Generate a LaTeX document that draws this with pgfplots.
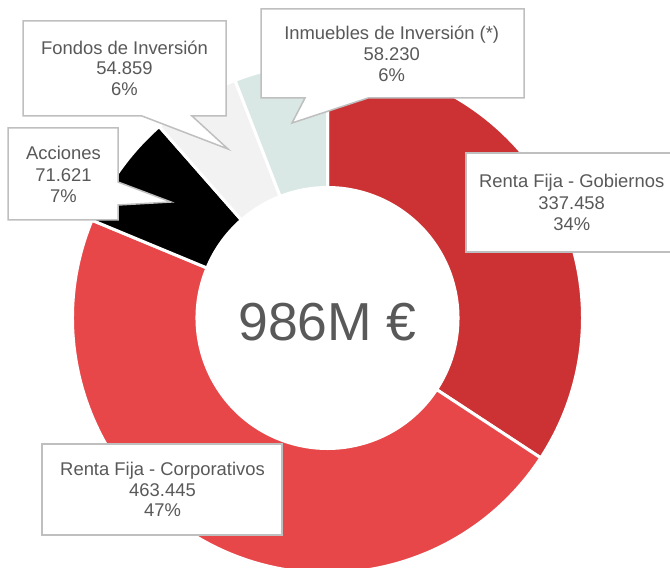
\documentclass[border=0pt]{standalone}
\usepackage{fontspec}
\setmainfont{Liberation Sans}
\usepackage{pgfplots}
\usepackage{pgfplotstable}
\pgfplotsset{compat=1.18}
\definecolor{gob}{RGB}{204,50,51}
\definecolor{corp}{RGB}{232,71,73}
\definecolor{acc}{RGB}{0,0,0}
\definecolor{fon}{RGB}{242,242,242}
\definecolor{inm}{RGB}{217,232,228}
\definecolor{txt}{RGB}{89,89,89}
\definecolor{bord}{RGB}{191,191,191}
\pgfplotstableread{
name value
Gob 337.458
Corp 463.445
Acc 71.621
Fon 54.859
Inm 58.230
}\donut
% slice: start angle, end angle, colour
\newcommand\slice[3]{%
  \filldraw[fill=#3, draw=white, line width=3bp, line join=miter]
    (axis cs:{327.5+255*cos(#1)},{249+255*sin(#1)})
    arc[start angle=#1, end angle=#2, radius=255bp]
    -- (axis cs:{327.5+130.5*cos(#2)},{249+130.5*sin(#2)})
    arc[start angle=#2, end angle=#1, radius=130.5bp] -- cycle;}
\newcommand\lbl[3]{\node[anchor=base, inner sep=0pt, text=txt,
  font=\fontsize{18.4bp}{21bp}\selectfont] at (axis cs:#1,#2) {#3};}
\begin{document}
\begin{tikzpicture}
\pgfplotstablegetelem{0}{value}\of\donut \let\vA\pgfplotsretval
\pgfplotstablegetelem{1}{value}\of\donut \let\vB\pgfplotsretval
\pgfplotstablegetelem{2}{value}\of\donut \let\vC\pgfplotsretval
\pgfplotstablegetelem{3}{value}\of\donut \let\vD\pgfplotsretval
\pgfplotstablegetelem{4}{value}\of\donut \let\vE\pgfplotsretval
\pgfmathsetmacro{\T}{\vA+\vB+\vC+\vD+\vE}
\pgfmathsetmacro{\aA}{90-360*(\vA/\T)}
\pgfmathsetmacro{\aB}{\aA-360*(\vB/\T)}
\pgfmathsetmacro{\aC}{\aB-360*(\vC/\T)}
\pgfmathsetmacro{\aD}{\aC-360*(\vD/\T)}
\pgfmathsetmacro{\aE}{\aD-360*(\vE/\T)}
\begin{axis}[
  width=670bp, height=567bp, scale only axis,
  xmin=0, xmax=670, ymin=0, ymax=567,
  hide axis, clip=true]
\slice{90}{\aA}{gob}
\slice{\aA}{\aB}{corp}
\slice{\aB}{\aC}{acc}
\slice{\aC}{\aD}{fon}
\slice{\aD}{\aE}{inm}
% centre text
\node[anchor=base, inner sep=0pt, text=txt, font=\fontsize{53.5bp}{60bp}\selectfont]
  at (axis cs:327.5,227) {986M €};
% Fondos box
\filldraw[fill=white, draw=bord, line width=1.5bp]
  (axis cs:23,546) -- (axis cs:226,546) -- (axis cs:226,451) -- (axis cs:192,451)
  -- (axis cs:228,418) -- (axis cs:142,451) -- (axis cs:23,451) -- cycle;
\lbl{124.5}{512.5}{Fondos de Inversión}
\lbl{124.5}{492}{54.859}
\lbl{124.5}{471}{6\%}
% Inmuebles box
\filldraw[fill=white, draw=bord, line width=1.5bp]
  (axis cs:261,558) -- (axis cs:524,558) -- (axis cs:524,469) -- (axis cs:368,469)
  -- (axis cs:292,444) -- (axis cs:305,469) -- (axis cs:261,469) -- cycle;
\lbl{391.7}{527}{Inmuebles de Inversión (*)}
\lbl{391.7}{506}{58.230}
\lbl{391.7}{485}{6\%}
% Acciones box
\filldraw[fill=white, draw=bord, line width=1.5bp]
  (axis cs:8,439) -- (axis cs:118,439) -- (axis cs:118,385) -- (axis cs:171,365)
  -- (axis cs:118,362) -- (axis cs:118,347) -- (axis cs:8,347) -- cycle;
\lbl{63.5}{407}{Acciones}
\lbl{63.5}{385.3}{71.621}
\lbl{63.5}{364.3}{7\%}
% Gobiernos box
\filldraw[fill=white, draw=bord, line width=1.5bp]
  (axis cs:466,414) rectangle (axis cs:674,315);
\lbl{571.7}{379}{Renta Fija - Gobiernos}
\lbl{571.7}{357}{337.458}
\lbl{571.7}{336}{34\%}
% Corporativos box
\filldraw[fill=white, draw=bord, line width=1.5bp]
  (axis cs:42,123) rectangle (axis cs:282,32);
\lbl{162.5}{92}{Renta Fija - Corporativos}
\lbl{162.5}{71}{463.445}
\lbl{162.5}{50.3}{47\%}
\end{axis}
\pgfresetboundingbox
\useasboundingbox (current axis.south west) rectangle (current axis.north east);
\end{tikzpicture}
\end{document}
